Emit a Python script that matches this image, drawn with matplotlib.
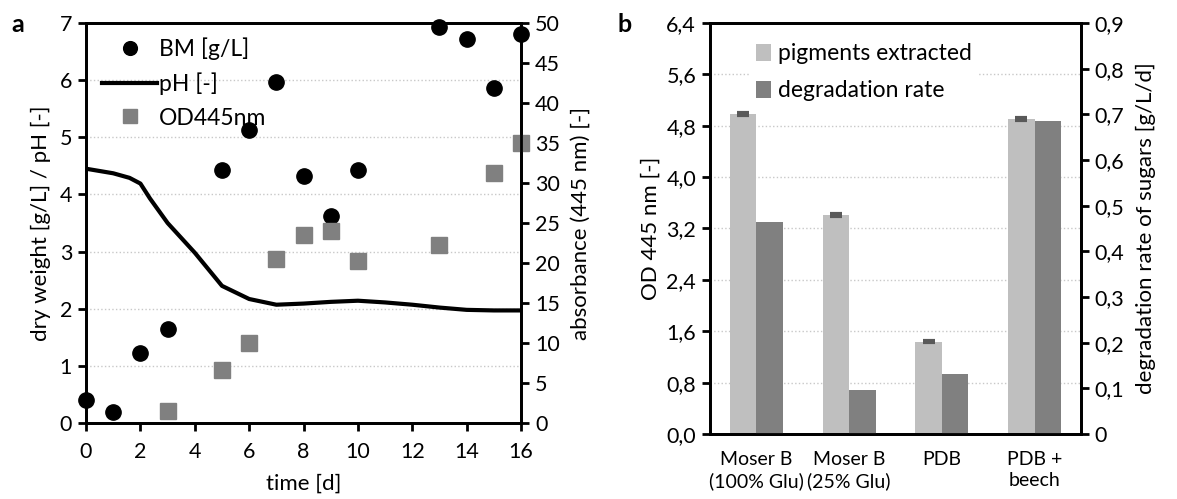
import matplotlib
matplotlib.use("Agg")
from matplotlib import pyplot as plt
from matplotlib.ticker import FuncFormatter

# panel a data
bm_days = [0, 1, 2, 3, 5, 6, 7, 8, 9, 10, 13, 14, 15, 16]
bm_values = [0.40, 0.19, 1.23, 1.65, 4.43, 5.13, 5.97, 4.33, 3.62, 4.42, 6.93, 6.72, 5.86, 6.80]
od_days = [3, 5, 6, 7, 8, 9, 10, 13, 15, 16]
od_values = [1.5, 6.6, 10.0, 20.5, 23.5, 24.0, 20.3, 22.2, 31.2, 35.0]
ph_days = [0, 1, 1.6, 2, 2.35, 3, 4, 5, 6, 7, 8, 9, 10, 11, 12, 13, 14, 15, 16]
ph_values = [4.45, 4.37, 4.29, 4.19, 3.93, 3.50, 2.98, 2.40, 2.17, 2.07, 2.09, 2.12, 2.14, 2.11, 2.07, 2.02, 1.98, 1.97, 1.97]

# panel b data
media = ["Moser B\n(100% Glu)", "Moser B\n(25% Glu)", "PDB", "PDB +\nbeech"]
pigments = [4.98, 3.41, 1.44, 4.90]
pigments_err = [0.015, 0.015, 0.015, 0.015]
degradation = [0.464, 0.096, 0.131, 0.685]

light = "#bfbfbf"
dark = "#808080"
plt.rcParams['font.family'] = ['Lato', 'DejaVu Sans']
fs_tick = 15.5
fs_lab = 16
fs_leg = 16.5

fig = plt.figure(figsize=(11.77, 4.99), dpi=100)


def comma(x, pos):
    return f"{x:.1f}".replace(".", ",")


def comma_r(x, pos):
    if abs(x) < 1e-9:
        return "0"
    return f"{x:.1f}".replace(".", ",")


def style_axis(ax):
    for s in ax.spines.values():
        s.set_linewidth(2)
        s.set_color("black")
    ax.tick_params(direction="out", width=2, length=6, labelsize=fs_tick, pad=4)


# ---- panel a ----
ax1 = fig.add_axes([0.0731, 0.1523, 0.3696, 0.8016])
ax2 = ax1.twinx()
ax1.grid(axis="y", color="#c8c8c8", linestyle=":", linewidth=1)
ax1.set_axisbelow(True)

h_ph, = ax1.plot(ph_days, ph_values, color="black", lw=3, solid_joinstyle="round", label="pH [-]", zorder=3)
h_bm, = ax1.plot(bm_days, bm_values, "o", color="black", ms=11, label="BM [g/L]", zorder=4, clip_on=False)
h_od, = ax2.plot(od_days, od_values, "s", color=dark, ms=11, mec=dark, label="OD445nm", clip_on=False)

ax1.set_xlim(0, 16)
ax1.set_ylim(0, 7)
ax2.set_ylim(0, 50)
ax1.set_xticks(range(0, 17, 2))
ax1.set_yticks(range(0, 8))
ax2.set_yticks(range(0, 51, 5))
ax1.set_xlabel("time [d]", fontsize=fs_lab, labelpad=8)
ax1.set_ylabel("dry weight [g/L] / pH [-]", fontsize=fs_lab, labelpad=6)
ax2.set_ylabel("absorbance (445 nm) [-]", fontsize=fs_lab, labelpad=8)
style_axis(ax1)
style_axis(ax2)
ax1.tick_params(axis="x", pad=8)

ax1.legend([h_bm, h_ph, h_od], ["BM [g/L]", "pH [-]", "OD445nm"], loc="upper left",
           frameon=False, fontsize=fs_leg, handlelength=2.4, handletextpad=0.1,
           labelspacing=0.55, markerscale=0.9, bbox_to_anchor=(0.0, 1.005), borderaxespad=0.3)
fig.text(0.010, 0.935, "a", fontsize=18, fontweight="bold")

# ---- panel b ----
ax3 = fig.add_axes([0.6032, 0.1303, 0.3152, 0.8236])
ax4 = ax3.twinx()
ax3.grid(axis="y", color="#c8c8c8", linestyle=":", linewidth=1)
ax3.set_axisbelow(True)

x = list(range(len(media)))
w = 0.286
b1 = ax3.bar([i - w / 2 for i in x], pigments, w, color=light, yerr=pigments_err,
             ecolor="#595959", capsize=4, error_kw=dict(elinewidth=1.5, capthick=3),
             label="pigments extracted")
b2 = ax4.bar([i + w / 2 for i in x], degradation, w, color=dark, label="degradation rate")

ax3.set_xlim(-0.5, 3.5)
ax3.set_ylim(0, 6.4)
ax4.set_ylim(0, 0.9)
ax3.set_yticks([i * 0.8 for i in range(9)])
ax4.set_yticks([i * 0.1 for i in range(10)])
ax3.yaxis.set_major_formatter(FuncFormatter(comma))
ax4.yaxis.set_major_formatter(FuncFormatter(comma_r))
ax3.set_xticks(x)
ax3.set_xticklabels(media, fontsize=14, linespacing=1.3)
ax3.set_ylabel("OD 445 nm [-]", fontsize=fs_lab, labelpad=4)
ax4.set_ylabel("degradation rate of sugars [g/L/d]", fontsize=fs_lab, labelpad=8)
style_axis(ax3)
style_axis(ax4)
ax3.tick_params(axis="x", length=0, labelsize=14, pad=12)

leg = ax3.legend([b1, b2], ["pigments extracted", "degradation rate"], loc="upper left",
                 bbox_to_anchor=(0.075, 0.995), fontsize=fs_leg, frameon=True, fancybox=False,
                 handlelength=0.65, handleheight=0.8, handletextpad=0.3, labelspacing=0.7,
                 borderpad=0.3)
leg.get_frame().set_edgecolor("none")
leg.get_frame().set_facecolor("white")
leg.get_frame().set_alpha(1)
fig.text(0.525, 0.935, "b", fontsize=18, fontweight="bold")

plt.savefig("out.png", dpi=100)
